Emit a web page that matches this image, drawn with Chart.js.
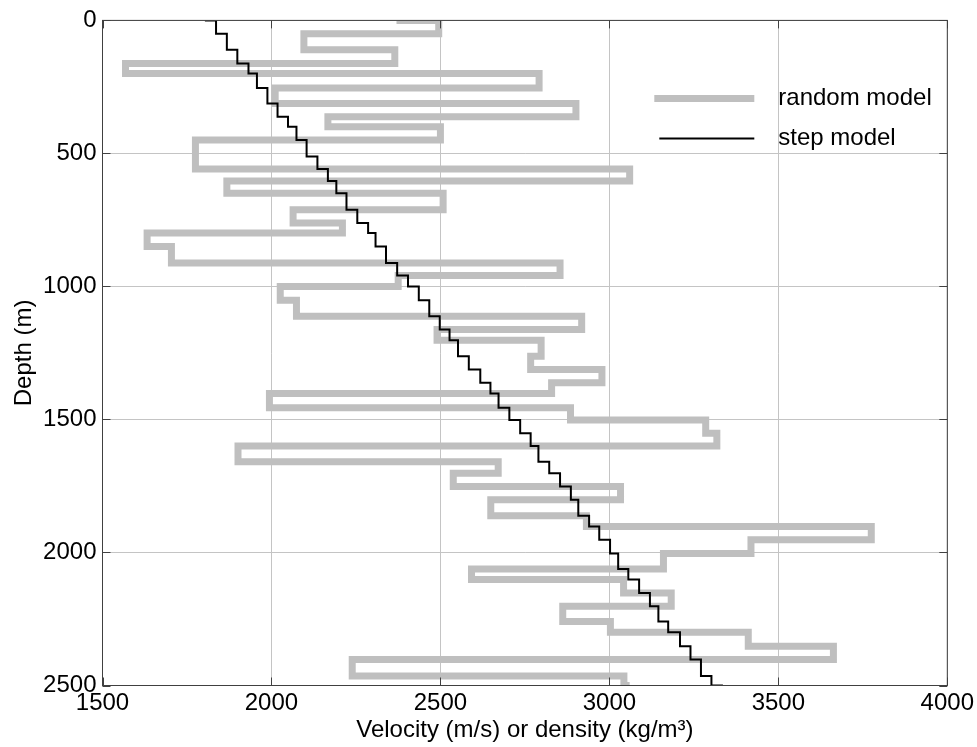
<!DOCTYPE html>
<html>
<head>
<meta charset="utf-8">
<title>velocity model</title>
<script src="https://cdn.jsdelivr.net/npm/chart.js@4.4.1/dist/chart.umd.min.js"></script>
<style>
html,body{margin:0;padding:0;background:#fff}
#wrap{width:977px;height:747px}
</style>
</head>
<body>
<div id="wrap"><canvas id="myChart" width="977" height="747"></canvas></div>
<script>
"use strict"
// layer boundaries (m), shared by both models
const layerDepth = [0, 50, 110, 162, 200, 254, 312, 362, 400, 450, 512, 559, 604, 650, 712, 762, 799, 850, 912, 959,
	1000, 1052, 1112, 1162, 1202, 1262, 1312, 1362, 1402, 1456, 1502, 1552, 1600, 1659, 1702, 1752, 1802, 1862, 1902, 1952,
	2004, 2062, 2102, 2152, 2202, 2259, 2300, 2352, 2402, 2464, 2500]
const randomVel = [2370, 2495, 2096, 2365, 1568, 2792, 2011, 2901, 2167, 2500, 1775, 1775, 3060, 1868, 2508, 2064, 2210, 1632, 1704, 2854,
	2375, 2026, 2074, 2918, 2490, 2798, 2767, 2978, 2829, 1994, 2885, 3285, 3318, 1901, 2671, 2538, 3033, 2649, 2932, 3775,
	3419, 3160, 2592, 3042, 3183, 2862, 3003, 3411, 3663, 2239, 3043, 3060]
const stepVel = [1803, 1836, 1868, 1899, 1932, 1957, 1988, 2018, 2049, 2074, 2104, 2136, 2167, 2192, 2222, 2254, 2286, 2308, 2339, 2372,
	2404, 2436, 2467, 2498, 2527, 2552, 2584, 2618, 2648, 2672, 2704, 2736, 2767, 2790, 2822, 2854, 2886, 2908, 2940, 2970,
	3002, 3026, 3056, 3088, 3120, 3145, 3174, 3209, 3240, 3271, 3302, 3336]
const xTicks = [1500, 2000, 2500, 3000, 3500, 4000]
const yTicks = [0, 500, 1000, 1500, 2000, 2500]
const seriesNames = ['random model', 'step model']
const xTitle = 'Velocity (m/s) or density (kg/m³)'
const yTitle = 'Depth (m)'

const FONT = 'Liberation Sans, Arial, Helvetica, sans-serif'
const GRAY = '#bfbfbf'

let stairs=(vel, dep)=>{
	let pts=[]
	dep.forEach((d,k)=>{
		pts.push({x:vel[k], y:d})
		pts.push({x:vel[k+1], y:d})
	})
	return pts
}

// box, inward ticks and the legend inside the axes
let framePlugin={
	id:'frame',
	afterDatasetsDraw(chart){
		const {ctx, chartArea:a, scales} = chart
		ctx.save()
		ctx.strokeStyle='#404040'
		ctx.lineWidth=1
		ctx.strokeRect(a.left, a.top, a.right-a.left, a.bottom-a.top)
		ctx.beginPath()
		xTicks.forEach(v=>{
			let px=Math.round(scales.x.getPixelForValue(v))+0.5
			ctx.moveTo(px,a.bottom); ctx.lineTo(px,a.bottom-8)
			ctx.moveTo(px,a.top); ctx.lineTo(px,a.top+8)
		})
		yTicks.forEach(v=>{
			let py=Math.round(scales.y.getPixelForValue(v))+0.5
			ctx.moveTo(a.left,py); ctx.lineTo(a.left+8,py)
			ctx.moveTo(a.right,py); ctx.lineTo(a.right-8,py)
		})
		ctx.stroke()

		let lx=a.right-293, ly=a.top+78
		ctx.lineCap='butt'
		ctx.strokeStyle=GRAY
		ctx.lineWidth=7
		ctx.beginPath(); ctx.moveTo(lx,ly); ctx.lineTo(lx+100,ly); ctx.stroke()
		ctx.strokeStyle='#000'
		ctx.lineWidth=2
		ctx.beginPath(); ctx.moveTo(lx+5,ly+40); ctx.lineTo(lx+100,ly+40); ctx.stroke()
		ctx.fillStyle='#000'
		ctx.font='24px '+FONT
		ctx.textBaseline='middle'
		ctx.fillText(seriesNames[0], lx+124, ly)
		ctx.fillText(seriesNames[1], lx+124, ly+40)
		ctx.restore()
	}
}

let ctx=document.getElementById('myChart')
let myChart=new Chart(ctx,{
	type:'scatter',
	data:{
		datasets:[{
			label:seriesNames[1],
			data:stairs(stepVel, layerDepth),
			showLine:true,
			borderColor:'#000',
			borderWidth:2,
			pointRadius:0,
			order:1
		},{
			label:seriesNames[0],
			data:stairs(randomVel, layerDepth),
			showLine:true,
			borderColor:GRAY,
			borderWidth:7,
			borderJoinStyle:'miter',
			pointRadius:0,
			order:2
		}]
	},
	options:{
		responsive:false,
		animation:false,
		layout:{padding:{top:19, right:27, left:0, bottom:0}},
		plugins:{legend:{display:false}, tooltip:{enabled:false}},
		scales:{
			x:{
				type:'linear', min:1500, max:4000,
				afterBuildTicks:s=>{ s.ticks=xTicks.map(v=>({value:v})) },
				afterFit:s=>{ s.height=61.5 },
				grid:{color:'#c4c4c4', drawTicks:false},
				border:{display:false},
				ticks:{color:'#000', padding:3, font:{family:FONT, size:24}, callback:v=>String(v)},
				title:{display:true, text:xTitle, color:'#000', padding:{top:0, bottom:2}, font:{family:FONT, size:24}}
			},
			y:{
				type:'linear', min:0, max:2500, reverse:true,
				afterBuildTicks:s=>{ s.ticks=yTicks.map(v=>({value:v})) },
				afterFit:s=>{ s.width=102.5 },
				grid:{color:'#c4c4c4', drawTicks:false},
				border:{display:false},
				ticks:{color:'#000', padding:6, font:{family:FONT, size:24}, callback:v=>String(v)},
				title:{display:true, text:yTitle, color:'#000', padding:{top:10, bottom:0}, font:{family:FONT, size:24}}
			}
		}
	},
	plugins:[framePlugin]
})
</script>
</body>
</html>
